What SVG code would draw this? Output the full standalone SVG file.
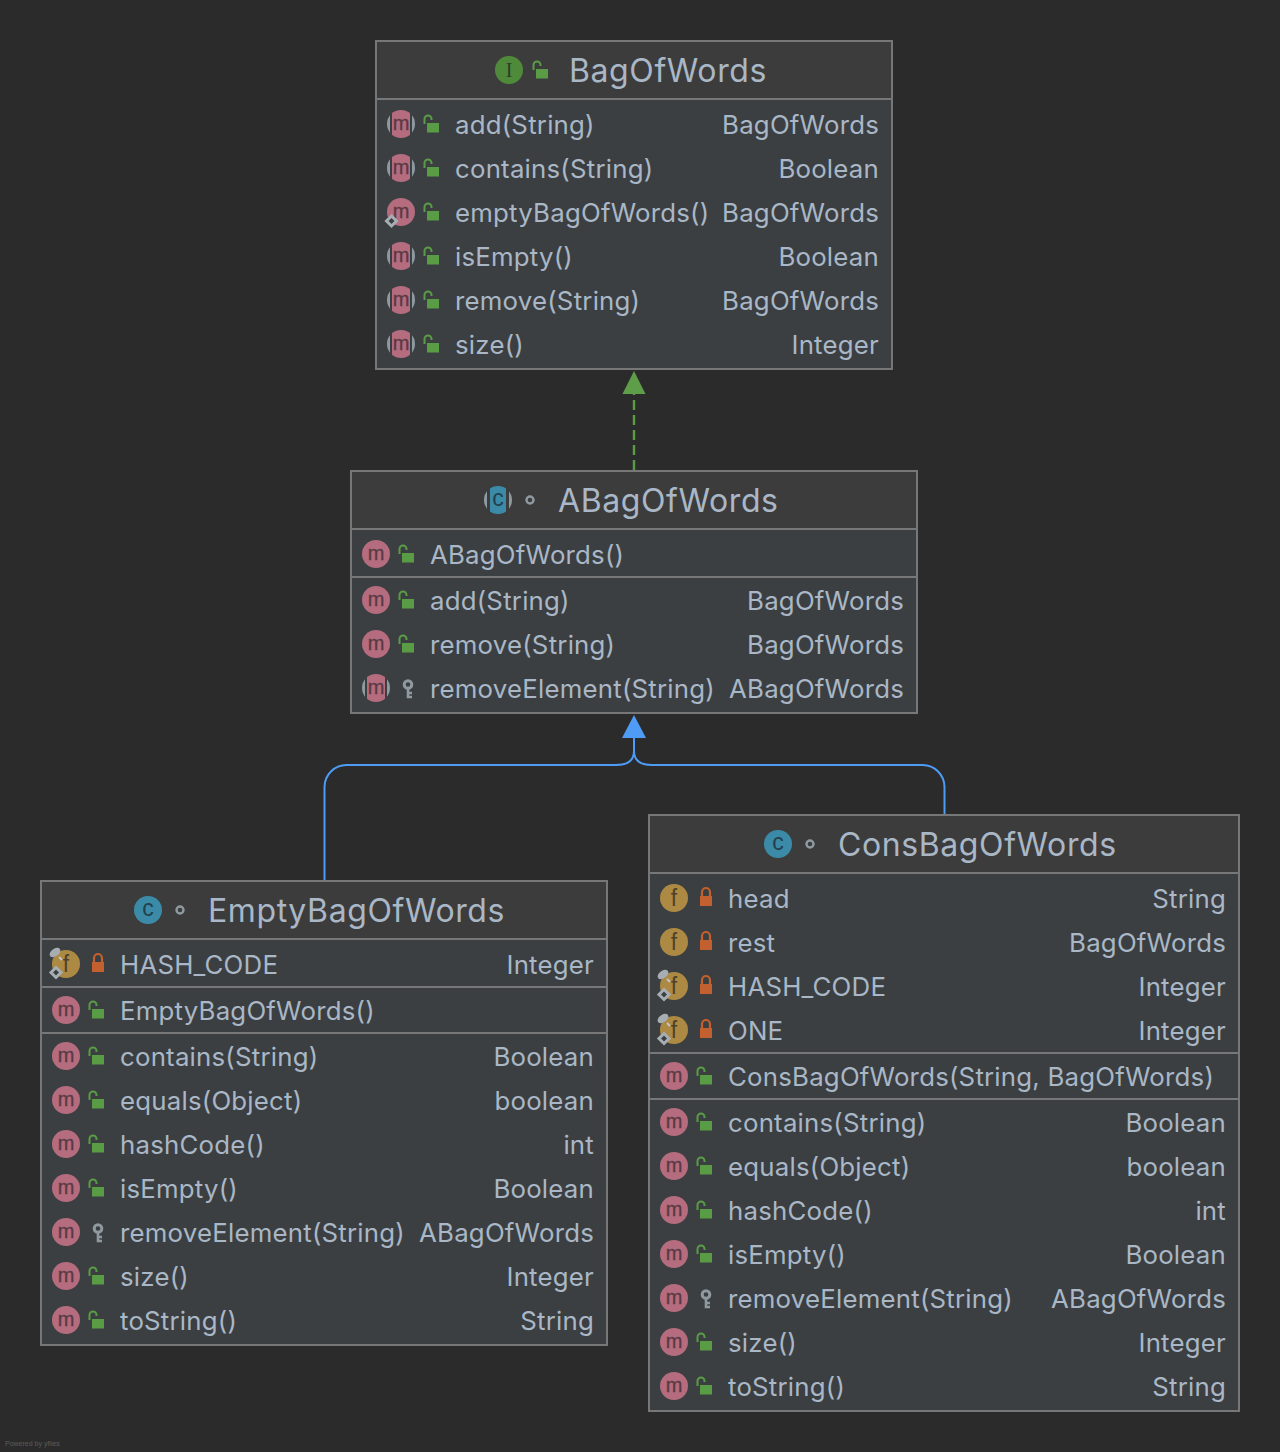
<svg xmlns="http://www.w3.org/2000/svg" width="1280" height="1452" viewBox="0 0 1280 1452">
<style>
.body{fill:#3c3f41;stroke:#777;stroke-width:2}
.head{fill:#3c3c3c}
.sep{stroke:#777;stroke-width:2;fill:none}
text{font-family:Inter,"Liberation Sans",sans-serif;fill:#a9b7c6}
.t{font-size:32px;letter-spacing:.6px}
.r{font-size:25.800px;letter-spacing:.22px}
.e{text-anchor:end}
.g{font-family:"Liberation Sans",sans-serif;font-size:20px;text-anchor:middle;letter-spacing:0}
</style>
<defs>
<clipPath id="cc"><circle r="14"/></clipPath>
<g id="m"><circle r="14" fill="#b46c7e"/><text class="g" y="6" style="fill:#5a3a44;stroke:#5a3a44;stroke-width:.3">m</text></g>
<g id="mo"><circle r="14" fill="#8f9aa0"/><rect x="-11" y="-14" width="22" height="28" fill="#3c3f41"/><g clip-path="url(#cc)"><rect x="-9" y="-14" width="18" height="28" fill="#b46c7e"/></g><text class="g" y="6" style="fill:#5a3a44;stroke:#5a3a44;stroke-width:.3">m</text></g>
<g id="ms"><use href="#m"/><path d="M-9.500 4l5 5-5 5-5-5z" fill="#3c3f41" stroke="#a6aeb3" stroke-width="3"/></g>
<g id="f"><circle r="14" fill="#ad8a44"/><text class="g" y="8" style="font-size:23px;fill:#4f422a">f</text></g>
<g id="fs"><use href="#f"/><ellipse cx="-11" cy="-11.500" rx="6" ry="3.800" transform="rotate(-35 -11 -11.500)" fill="#a6aeb3"/><path d="M-7-7l3 3" stroke="#c0c6ca" stroke-width="2"/><path d="M-10 3.500l5 5-5 5-5-5z" fill="#3c3f41" stroke="#a6aeb3" stroke-width="3"/></g>
<g id="c"><circle r="14" fill="#3b8ba8"/><text class="g" y="6" style="font-size:23px;fill:#23404c">c</text></g>
<g id="ca"><circle r="14" fill="#8f9aa0"/><rect x="-11" y="-14" width="22" height="28" fill="#3c3c3c"/><g clip-path="url(#cc)"><rect x="-8" y="-14" width="16" height="28" fill="#3b8ba8"/></g><text class="g" y="6" style="font-size:23px;fill:#23404c">c</text></g>
<g id="i"><circle r="14" fill="#4f8a3a"/><text class="g" y="7" style="font-family:'Liberation Serif',serif;font-size:20px;fill:#2c3d26">I</text></g>
<g id="o"><path d="M-6.500-1v-5a3.500 3.500 0 0 1 7 0v1" fill="none" stroke="#5a9b45" stroke-width="2"/><rect x="-4" y="-2" width="12" height="9.500" fill="#5a9b45"/></g>
<g id="p"><path d="M-4-2v-4a4 4 0 0 1 8 0v4" fill="none" stroke="#c2602f" stroke-width="2.200"/><rect x="-6" y="-2" width="12" height="10" fill="#c2602f"/></g>
<g id="k"><circle cx="1" cy="-3.500" r="3.800" fill="none" stroke="#8f9aa0" stroke-width="3"/><path d="M1 0v9h4M1 5h4" fill="none" stroke="#8f9aa0" stroke-width="2.600"/></g>
<circle id="d" r="3.500" fill="none" stroke="#8f9aa0" stroke-width="2.400"/>
</defs>
<rect width="1280" height="1452" fill="#2b2b2b"/>

<g id="connectors" fill="none" stroke-width="2">
<path d="M634 470V392" stroke="#5a9b45" stroke-width="2.400" stroke-dasharray="10 5"/>
<path d="M634 371l11.500 23h-23z" fill="#5f9e49" stroke="none"/>
<path d="M324.500 880V787a22 22 0 0 1 22-22H616q18 0 18-14V736" stroke="#4e9cf5"/>
<path d="M944.500 814V787a22 22 0 0 0-22-22H652q-18 0-18-14" stroke="#4e9cf5"/>
<path d="M634 715l12 23h-24z" fill="#4e9cf5" stroke="none"/>
</g>

<g id="BagOfWords">
<rect class="body" x="376" y="41" width="516" height="328"/>
<rect class="head" x="377" y="42" width="514" height="57"/>
<path class="sep" d="M376 99H892"/>
<use href="#i" x="509" y="70"/><use href="#o" x="540" y="71"/>
<text class="t" x="569" y="82">BagOfWords</text>
<use href="#mo" x="401" y="124"/><use href="#o" x="431" y="125"/><text class="r" x="455" y="134">add(String)</text><text class="r e" x="879" y="134">BagOfWords</text>
<use href="#mo" x="401" y="168"/><use href="#o" x="431" y="169"/><text class="r" x="455" y="178">contains(String)</text><text class="r e" x="879" y="178">Boolean</text>
<use href="#ms" x="401" y="212"/><use href="#o" x="431" y="213"/><text class="r" x="455" y="222">emptyBagOfWords()</text><text class="r e" x="879" y="222">BagOfWords</text>
<use href="#mo" x="401" y="256"/><use href="#o" x="431" y="257"/><text class="r" x="455" y="266">isEmpty()</text><text class="r e" x="879" y="266">Boolean</text>
<use href="#mo" x="401" y="300"/><use href="#o" x="431" y="301"/><text class="r" x="455" y="310">remove(String)</text><text class="r e" x="879" y="310">BagOfWords</text>
<use href="#mo" x="401" y="344"/><use href="#o" x="431" y="345"/><text class="r" x="455" y="354">size()</text><text class="r e" x="879" y="354">Integer</text>
</g>

<g id="ABagOfWords">
<rect class="body" x="351" y="471" width="566" height="242"/>
<rect class="head" x="352" y="472" width="564" height="57"/>
<path class="sep" d="M351 529H917M351 577H917"/>
<use href="#ca" x="498" y="500"/><use href="#d" x="530" y="500"/>
<text class="t" x="558" y="512">ABagOfWords</text>
<use href="#m" x="376" y="554"/><use href="#o" x="406" y="555"/><text class="r" x="430" y="564">ABagOfWords()</text>
<use href="#m" x="376" y="600"/><use href="#o" x="406" y="601"/><text class="r" x="430" y="610">add(String)</text><text class="r e" x="904" y="610">BagOfWords</text>
<use href="#m" x="376" y="644"/><use href="#o" x="406" y="645"/><text class="r" x="430" y="654">remove(String)</text><text class="r e" x="904" y="654">BagOfWords</text>
<use href="#mo" x="376" y="688"/><use href="#k" x="407" y="688"/><text class="r" x="430" y="698">removeElement(String)</text><text class="r e" x="904" y="698">ABagOfWords</text>
</g>

<g id="EmptyBagOfWords">
<rect class="body" x="41" y="881" width="566" height="464"/>
<rect class="head" x="42" y="882" width="564" height="57"/>
<path class="sep" d="M41 939H607M41 987H607M41 1033H607"/>
<use href="#c" x="148" y="910"/><use href="#d" x="180" y="910"/>
<text class="t" x="208" y="922">EmptyBagOfWords</text>
<use href="#fs" x="66" y="964"/><use href="#p" x="98" y="964"/><text class="r" x="120" y="974">HASH_CODE</text><text class="r e" x="594" y="974">Integer</text>
<use href="#m" x="66" y="1010"/><use href="#o" x="96" y="1011"/><text class="r" x="120" y="1020">EmptyBagOfWords()</text>
<use href="#m" x="66" y="1056"/><use href="#o" x="96" y="1057"/><text class="r" x="120" y="1066">contains(String)</text><text class="r e" x="594" y="1066">Boolean</text>
<use href="#m" x="66" y="1100"/><use href="#o" x="96" y="1101"/><text class="r" x="120" y="1110">equals(Object)</text><text class="r e" x="594" y="1110">boolean</text>
<use href="#m" x="66" y="1144"/><use href="#o" x="96" y="1145"/><text class="r" x="120" y="1154">hashCode()</text><text class="r e" x="594" y="1154">int</text>
<use href="#m" x="66" y="1188"/><use href="#o" x="96" y="1189"/><text class="r" x="120" y="1198">isEmpty()</text><text class="r e" x="594" y="1198">Boolean</text>
<use href="#m" x="66" y="1232"/><use href="#k" x="97" y="1232"/><text class="r" x="120" y="1242">removeElement(String)</text><text class="r e" x="594" y="1242">ABagOfWords</text>
<use href="#m" x="66" y="1276"/><use href="#o" x="96" y="1277"/><text class="r" x="120" y="1286">size()</text><text class="r e" x="594" y="1286">Integer</text>
<use href="#m" x="66" y="1320"/><use href="#o" x="96" y="1321"/><text class="r" x="120" y="1330">toString()</text><text class="r e" x="594" y="1330">String</text>
</g>

<g id="ConsBagOfWords">
<rect class="body" x="649" y="815" width="590" height="596"/>
<rect class="head" x="650" y="816" width="588" height="57"/>
<path class="sep" d="M649 873H1239M649 1053H1239M649 1099H1239"/>
<use href="#c" x="778" y="844"/><use href="#d" x="810" y="844"/>
<text class="t" x="838" y="856">ConsBagOfWords</text>
<use href="#f" x="674" y="898"/><use href="#p" x="706" y="898"/><text class="r" x="728" y="908">head</text><text class="r e" x="1226" y="908">String</text>
<use href="#f" x="674" y="942"/><use href="#p" x="706" y="942"/><text class="r" x="728" y="952">rest</text><text class="r e" x="1226" y="952">BagOfWords</text>
<use href="#fs" x="674" y="986"/><use href="#p" x="706" y="986"/><text class="r" x="728" y="996">HASH_CODE</text><text class="r e" x="1226" y="996">Integer</text>
<use href="#fs" x="674" y="1030"/><use href="#p" x="706" y="1030"/><text class="r" x="728" y="1040">ONE</text><text class="r e" x="1226" y="1040">Integer</text>
<use href="#m" x="674" y="1076"/><use href="#o" x="704" y="1077"/><text class="r" x="728" y="1086">ConsBagOfWords(String, BagOfWords)</text>
<use href="#m" x="674" y="1122"/><use href="#o" x="704" y="1123"/><text class="r" x="728" y="1132">contains(String)</text><text class="r e" x="1226" y="1132">Boolean</text>
<use href="#m" x="674" y="1166"/><use href="#o" x="704" y="1167"/><text class="r" x="728" y="1176">equals(Object)</text><text class="r e" x="1226" y="1176">boolean</text>
<use href="#m" x="674" y="1210"/><use href="#o" x="704" y="1211"/><text class="r" x="728" y="1220">hashCode()</text><text class="r e" x="1226" y="1220">int</text>
<use href="#m" x="674" y="1254"/><use href="#o" x="704" y="1255"/><text class="r" x="728" y="1264">isEmpty()</text><text class="r e" x="1226" y="1264">Boolean</text>
<use href="#m" x="674" y="1298"/><use href="#k" x="705" y="1298"/><text class="r" x="728" y="1308">removeElement(String)</text><text class="r e" x="1226" y="1308">ABagOfWords</text>
<use href="#m" x="674" y="1342"/><use href="#o" x="704" y="1343"/><text class="r" x="728" y="1352">size()</text><text class="r e" x="1226" y="1352">Integer</text>
<use href="#m" x="674" y="1386"/><use href="#o" x="704" y="1387"/><text class="r" x="728" y="1396">toString()</text><text class="r e" x="1226" y="1396">String</text>
</g>

<text x="5" y="1446" style="font-size:7px;fill:#5c5c5c;font-family:'Liberation Sans',sans-serif">Powered by yfiles</text>
</svg>
